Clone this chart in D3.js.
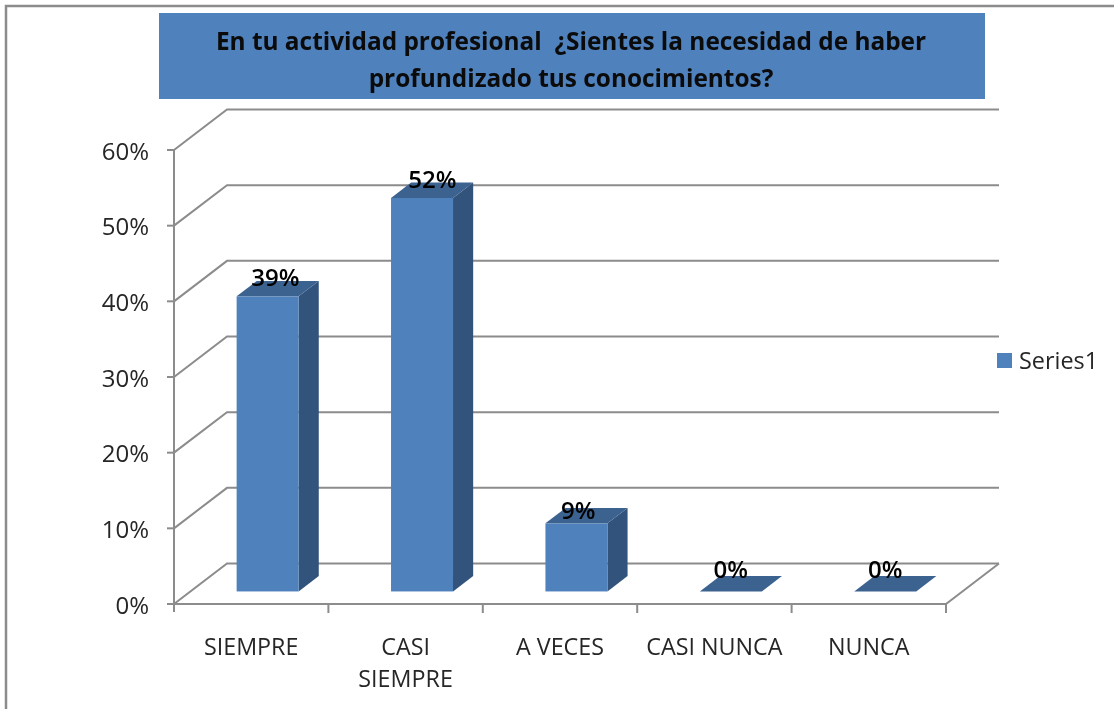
<!DOCTYPE html>
<html><head><meta charset="utf-8">
<script src="https://cdn.jsdelivr.net/npm/d3@7"></script>
<style>html,body{margin:0;padding:0;background:#fff}svg{display:block;filter:blur(0.45px)}text{font-family:"Open Sans",sans-serif;white-space:pre}</style>
</head><body><svg id="c" width="1114" height="709"></svg>
<script>
const categories = ["SIEMPRE","CASI SIEMPRE","A VECES","CASI NUNCA","NUNCA"];
const categoryLines = [["SIEMPRE"],["CASI","SIEMPRE"],["A VECES"],["CASI NUNCA"],["NUNCA"]];
const values = [39,52,9,0,0];
const tickValues = [0,10,20,30,40,50,60];
const titleLines = ["En tu actividad profesional  ¿Sientes la necesidad de haber","profundizado tus conocimientos?"];
const seriesName = "Series1";

const svg = d3.select("#c");
const blue="#4F81BD", top3="#3C6290", side3="#32537C", grid="#8C8C8C", ink="#262626";
const DX=53, DY=-40.5;
const x=d3.scaleBand().domain(categories).range([174,946]);
const y=d3.scaleLinear().domain([0,60]).range([604,150]);
const d0=0.31, d1=0.69, barW=62;
const labelLift=v=>v===0?13:(v<20?4.5:10);

svg.append("rect").attr("x",6).attr("y",6).attr("width",1120).attr("height",720).attr("fill","#fff").attr("stroke","#8C8C8C").attr("stroke-width",2.5);
svg.append("rect").attr("x",159).attr("y",13).attr("width",826).attr("height",86).attr("fill",blue);
svg.append("g").selectAll("text").data(titleLines).join("text")
  .attr("x",571).attr("y",(d,i)=>49.5+i*37.5).attr("text-anchor","middle")
  .attr("font-size",24.4).attr("font-weight",700).attr("fill","#0b0b0b").text(d=>d);

const g=svg.append("g").attr("fill","none").attr("stroke",grid).attr("stroke-width",2);
tickValues.forEach(t=>{
  const yy=y(t);
  g.append("path").attr("d",d3.line()([[174,yy],[174+DX,yy+DY],[946+DX,yy+DY]]));
  g.append("line").attr("x1",167).attr("x2",174).attr("y1",yy).attr("y2",yy);
});
g.append("line").attr("x1",174).attr("x2",174).attr("y1",y(60)).attr("y2",y(0)+8);
g.append("path").attr("d",d3.line()([[174,y(0)],[946,y(0)],[946+DX,y(0)+DY]]));
categories.forEach(c=>{
  const xx=x(c)+x.bandwidth();
  g.append("line").attr("x1",xx).attr("x2",xx).attr("y1",y(0)).attr("y2",y(0)+9);
});

const poly=pts=>d3.line()(pts)+"Z";
svg.append("g").selectAll("g").data(values.map((v,i)=>({v,c:categories[i]}))).join("g").each(function(d){
  const s=d3.select(this);
  const ox0=d0*DX, oy0=d0*DY, ox=(d1-d0)*DX, oy=(d1-d0)*DY;
  const L=x(d.c)+(x.bandwidth()-barW)/2+ox0, R=L+barW;
  const yb=y(0)+oy0, yt=y(d.v)+oy0;
  if(d.v>0){
    s.append("path").attr("d",poly([[R,yb],[R+ox,yb+oy],[R+ox,yt+oy],[R,yt]])).attr("fill",side3);
    s.append("rect").attr("x",L).attr("y",yt).attr("width",barW).attr("height",yb-yt).attr("fill",blue);
  }
  s.append("path").attr("d",poly([[L,yt],[R,yt],[R+ox,yt+oy],[L+ox,yt+oy]])).attr("fill",top3);
  s.append("text").attr("x",L+barW/2+d.v*0.2).attr("y",yt-labelLift(d.v))
    .attr("text-anchor","middle").attr("font-size",24).attr("font-weight",600).attr("fill","#000").text(d.v+"%");
});

svg.append("g").selectAll("text").data(tickValues).join("text")
  .attr("x",149).attr("y",t=>y(t)+9.5).attr("text-anchor","end").attr("font-size",24).attr("fill",ink).text(t=>t+"%");

categoryLines.forEach((ls,i)=>{
  ls.forEach((l,j)=>{
    svg.append("text").attr("x",x(categories[i])+x.bandwidth()/2).attr("y",654.5+j*32)
      .attr("text-anchor","middle").attr("font-size",23.3).attr("fill",ink).text(l);
  });
});

svg.append("rect").attr("x",997).attr("y",353).attr("width",15).attr("height",15).attr("fill",blue);
svg.append("text").attr("x",1019).attr("y",369).attr("font-size",23.4).attr("fill",ink).text(seriesName);
</script></body></html>
